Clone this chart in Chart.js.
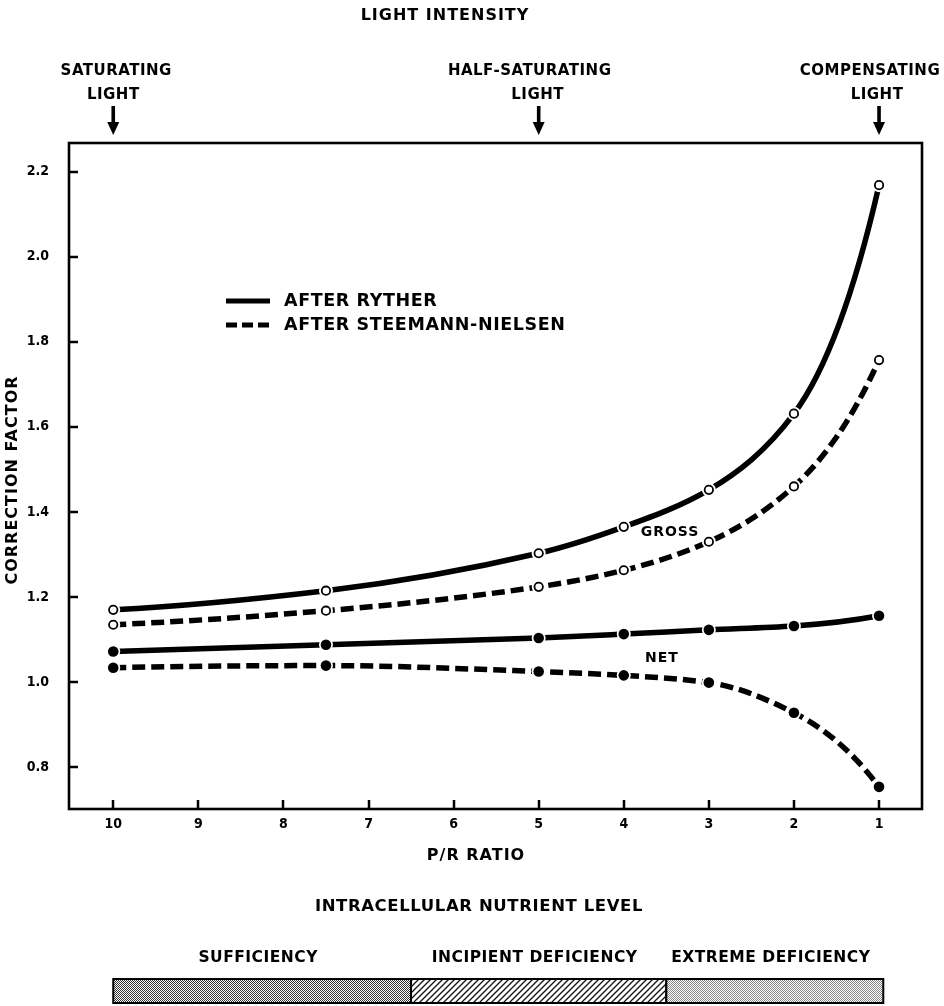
<!DOCTYPE html>
<html><head><meta charset="utf-8">
<script src="https://cdn.jsdelivr.net/npm/chart.js@4.4.1/dist/chart.umd.min.js"></script>
<style>html,body{margin:0;padding:0;background:#fff;}#wrap{width:944px;height:1006px;position:relative;}</style>
</head><body><div id="wrap"><canvas id="c" width="944" height="1006"></canvas></div>
<script>
// ---- data ----
const prRatio = [10, 7.5, 5, 4, 3, 2, 1];
const grossRyther = [1.170, 1.215, 1.303, 1.365, 1.452, 1.631, 2.168];
const grossSteemann = [1.135, 1.168, 1.224, 1.263, 1.330, 1.460, 1.757];
const netRyther = [1.072, 1.088, 1.104, 1.113, 1.123, 1.132, 1.156];
const netSteemann = [1.034, 1.039, 1.025, 1.016, 0.999, 0.928, 0.754];
const xTicks = [10, 9, 8, 7, 6, 5, 4, 3, 2, 1];
const yTicks = [0.8, 1.0, 1.2, 1.4, 1.6, 1.8, 2.0, 2.2];
const seriesNames = ['AFTER RYTHER', 'AFTER STEEMANN-NIELSEN'];
const lightLabels = [['SATURATING', 'LIGHT'], ['HALF-SATURATING', 'LIGHT'], ['COMPENSATING', 'LIGHT']];
const lightAt = [10, 5, 1];
const nutrientZones = ['SUFFICIENCY', 'INCIPIENT DEFICIENCY', 'EXTREME DEFICIENCY'];
const nutrientBounds = [10, 6.5, 3.5, 0.95];

const pts = ys => prRatio.map((x, i) => ({x, y: ys[i]}));
const FAM = '"DejaVu Sans", sans-serif';
const FAMC = '"DejaVu Sans Condensed", "DejaVu Sans", sans-serif';

function makePattern(kind) {
  const c = document.createElement('canvas');
  const g = c.getContext('2d');
  if (kind === 'dense') {
    c.width = 2; c.height = 2;
    g.fillStyle = '#fff'; g.fillRect(0, 0, 2, 2);
    g.fillStyle = '#333'; g.fillRect(0, 0, 1, 1); g.fillRect(1, 1, 1, 1);
  } else if (kind === 'light') {
    c.width = 2; c.height = 2;
    g.fillStyle = '#fff'; g.fillRect(0, 0, 2, 2);
    g.fillStyle = '#888'; g.fillRect(0, 0, 1, 1); g.fillRect(1, 1, 1, 1);
  } else {
    c.width = 6; c.height = 6;
    g.fillStyle = '#fff'; g.fillRect(0, 0, 6, 6);
    g.strokeStyle = '#111'; g.lineWidth = 1.3;
    g.beginPath();
    g.moveTo(-1, 7); g.lineTo(7, -1);
    g.moveTo(-4, 4); g.lineTo(4, -4);
    g.moveTo(2, 10); g.lineTo(10, 2);
    g.stroke();
  }
  return g.createPattern(c, 'repeat');
}

// Shape-preserving cubic Hermite control points (Brodlie weighted harmonic mean),
// applied to the library's own point elements
const smoother = {
  id: 'smoother',
  beforeDatasetDraw(chart, args) {
    const ds = chart.data.datasets[args.index];
    const meta = args.meta;
    if (!ds.smooth || !meta.dataset) return;
    meta.dataset.updateControlPoints(chart.chartArea, 'x');
    const p = meta.data, n = p.length;
    if (n < 3) return;
    const X = p.map(e => e.x), Y = p.map(e => e.y);
    const h = [], d = [];
    for (let i = 0; i < n - 1; i++) { h[i] = X[i + 1] - X[i]; d[i] = (Y[i + 1] - Y[i]) / h[i]; }
    const m = [];
    for (let i = 1; i < n - 1; i++) {
      if (d[i - 1] * d[i] <= 0) { m[i] = 0; continue; }
      const a = (h[i - 1] + 2 * h[i]) / (3 * (h[i - 1] + h[i]));
      m[i] = 1 / (a / d[i - 1] + (1 - a) / d[i]);
    }
    const endSlope = (s, mn) => {
      let v = (9 * s - 5 * mn) / 4;
      if (v * s <= 0) v = 0;
      if (Math.abs(v) > 3 * Math.abs(s)) v = 3 * s;
      return v;
    };
    m[0] = endSlope(d[0], m[1]);
    m[n - 1] = endSlope(d[n - 2], m[n - 2]);
    for (let i = 0; i < n; i++) {
      if (i > 0) { const k = h[i - 1] / 3; p[i].cp1x = X[i] - k; p[i].cp1y = Y[i] - m[i] * k; }
      if (i < n - 1) { const k = h[i] / 3; p[i].cp2x = X[i] + k; p[i].cp2y = Y[i] + m[i] * k; }
    }
  }
};

const decor = {
  id: 'decor',
  beforeDatasetsDraw(chart) {
    const {ctx, chartArea: a, scales: {x, y}} = chart;
    ctx.save();
    ctx.strokeStyle = '#000'; ctx.lineWidth = 2.5;
    ctx.beginPath();
    yTicks.forEach(v => { const py = Math.round(y.getPixelForValue(v)); ctx.moveTo(a.left, py); ctx.lineTo(a.left + 9, py); });
    xTicks.forEach(v => { const px = Math.round(x.getPixelForValue(v)); ctx.moveTo(px, a.bottom); ctx.lineTo(px, a.bottom - 9); });
    ctx.stroke();
    ctx.restore();
  },
  afterDraw(chart) {
    const {ctx, chartArea: a, scales: {x, y}} = chart;
    ctx.save();
    // frame
    ctx.strokeStyle = '#000'; ctx.lineWidth = 2.6;
    ctx.strokeRect(a.left, a.top, a.right - a.left, a.bottom - a.top);
    ctx.fillStyle = '#000';
    ctx.textBaseline = 'middle';
    ctx.textAlign = 'center';
    // top title
    ctx.font = `bold 16px ${FAM}`;
    ctx.letterSpacing = '1px';
    ctx.fillText('LIGHT INTENSITY', 445, 16);
    // light marks
    const dxs = [[3, 0], [-9, -1], [-9, -2]];
    lightAt.forEach((v, i) => {
      const px = x.getPixelForValue(v);
      ctx.font = `bold 15px ${FAM}`;
      ctx.letterSpacing = '0.5px';
      ctx.fillText(lightLabels[i][0], px + dxs[i][0], 71);
      ctx.fillText(lightLabels[i][1], px + dxs[i][1], 95);
      ctx.fillRect(px - 1.8, 106, 3.6, 19);
      ctx.beginPath();
      ctx.moveTo(px - 6, 122); ctx.lineTo(px + 6, 122); ctx.lineTo(px, 135); ctx.closePath();
      ctx.fill();
    });
    // axis titles
    ctx.font = `bold 16px ${FAM}`;
    ctx.letterSpacing = '1px';
    ctx.fillText('P/R RATIO', 476, 856);
    ctx.save();
    ctx.translate(13, 480); ctx.rotate(-Math.PI / 2);
    ctx.fillText('CORRECTION FACTOR', 0, 0);
    ctx.restore();
    // curve labels
    ctx.font = `bold 14px ${FAM}`;
    ctx.letterSpacing = '1px';
    ctx.fillText('GROSS', 670, 532);
    ctx.fillText('NET', 662, 658);
    // legend
    ctx.lineWidth = 5; ctx.lineCap = 'butt';
    ctx.beginPath(); ctx.moveTo(226, 301); ctx.lineTo(270, 301); ctx.stroke();
    ctx.setLineDash([11, 5]);
    ctx.beginPath(); ctx.moveTo(226, 325); ctx.lineTo(270, 325); ctx.stroke();
    ctx.setLineDash([]);
    ctx.textAlign = 'left';
    ctx.font = `bold 17.5px ${FAM}`;
    ctx.letterSpacing = '0.6px';
    ctx.fillText(seriesNames[0], 284, 301);
    ctx.fillText(seriesNames[1], 284, 325);
    // nutrient bar
    ctx.textAlign = 'center';
    ctx.font = `bold 16.5px ${FAM}`;
    ctx.letterSpacing = '0.6px';
    ctx.fillText('INTRACELLULAR NUTRIENT LEVEL', 479, 907);
    const pats = [makePattern('dense'), makePattern('hatch'), makePattern('light')];
    const top = 979, h = 24;
    ctx.font = `bold 15.5px ${FAM}`;
    ctx.letterSpacing = '0.5px';
    nutrientZones.forEach((name, i) => {
      const x0 = x.getPixelForValue(nutrientBounds[i]);
      const x1 = x.getPixelForValue(nutrientBounds[i + 1]);
      ctx.fillStyle = pats[i];
      ctx.fillRect(x0, top, x1 - x0, h);
      ctx.strokeStyle = '#000'; ctx.lineWidth = 2;
      ctx.strokeRect(x0, top, x1 - x0, h);
      ctx.fillStyle = '#000';
      ctx.fillText(name, (x0 + x1) / 2 - 4, 958);
    });
    ctx.restore();
  }
};

const lineDs = (label, ys, dashed) => ({
  label, data: pts(ys), borderColor: '#000', borderWidth: 5.5,
  borderDash: dashed ? [13, 6] : [], borderCapStyle: 'butt',
  pointRadius: 0, fill: false, tension: 0.35, smooth: true, order: 3
});
const haloDs = (ys) => ({
  data: pts(ys), showLine: false, pointRadius: 7, pointBackgroundColor: '#fff',
  pointBorderWidth: 0, order: 2
});
const markDs = (ys, open) => ({
  data: pts(ys), showLine: false,
  pointRadius: open ? 4.2 : 5.3,
  pointBackgroundColor: open ? '#fff' : '#000',
  pointBorderColor: '#000', pointBorderWidth: open ? 1.8 : 0, order: 1
});

new Chart(document.getElementById('c'), {
  type: 'line',
  data: {
    datasets: [
      lineDs('Gross – ' + seriesNames[0], grossRyther, false),
      lineDs('Gross – ' + seriesNames[1], grossSteemann, true),
      lineDs('Net – ' + seriesNames[0], netRyther, false),
      lineDs('Net – ' + seriesNames[1], netSteemann, true),
      haloDs(grossRyther), haloDs(grossSteemann), haloDs(netRyther), haloDs(netSteemann),
      markDs(grossRyther, true), markDs(grossSteemann, true),
      markDs(netRyther, false), markDs(netSteemann, false)
    ]
  },
  options: {
    responsive: false, animation: false, events: [],
    layout: {padding: {top: 143, right: 22, bottom: 157, left: 0}},
    plugins: {legend: {display: false}, tooltip: {enabled: false}},
    scales: {
      x: {
        type: 'linear', reverse: true, min: 0.495, max: 10.52,
        afterFit: s => { s.height = 40; },
        afterBuildTicks: s => { s.ticks = xTicks.map(v => ({value: v})); },
        grid: {display: false, drawTicks: false}, border: {display: false},
        ticks: {padding: 7, color: '#000', autoSkip: false, maxRotation: 0,
          font: {family: FAMC, size: 14, weight: 'bold'}, callback: v => String(v)}
      },
      y: {
        type: 'linear', min: 0.702, max: 2.267,
        afterFit: s => { s.width = 69; },
        afterBuildTicks: s => { s.ticks = yTicks.map(v => ({value: v})); },
        grid: {display: false, drawTicks: false}, border: {display: false},
        ticks: {padding: 20, color: '#000', autoSkip: false,
          font: {family: FAMC, size: 14, weight: 'bold'}, callback: v => Number(v).toFixed(1)}
      }
    }
  },
  plugins: [smoother, decor]
});
</script></body></html>
